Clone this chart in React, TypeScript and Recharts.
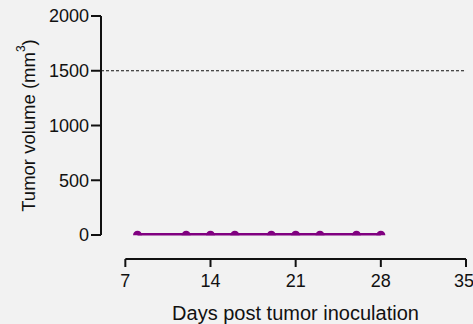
import { LineChart, Line, XAxis, YAxis, ReferenceLine, Label } from 'recharts';

// tumor growth, one group, all near zero
const days = [8, 12, 14, 16, 19, 21, 23, 26, 28];
const volume = [8, 8, 8, 8, 8, 8, 8, 8, 8];
const xTicks = [7, 14, 21, 28, 35];
const yTicks = [0, 500, 1000, 1500, 2000];
const threshold = 1500;

const data = days.map((d, i) => ({ day: d, volume: volume[i] }));

const FONT = '"Liberation Sans", Arial, sans-serif';
const INK = '#111';
const PURPLE = '#800080';

// x axis sits below the y axis (detached, Prism style)
const X_MIN = 5;
const Y_MIN = -219;

const HalfDot = (props: any) => {
  const { cx, cy } = props;
  if (cx == null || cy == null) return null;
  const r = 4.5;
  return <path d={`M${cx - r},${cy + 1} A${r},${r} 0 0 1 ${cx + r},${cy + 1} Z`} fill={PURPLE} />;
};

const YLabel = (props: any) => {
  const { viewBox } = props;
  const cx = viewBox.x + 28;
  const cy = viewBox.y + (viewBox.height - 24) / 2;
  return (
    <text
      x={cx}
      y={cy}
      transform={`rotate(-90, ${cx}, ${cy})`}
      textAnchor="middle"
      dominantBaseline="central"
      fontFamily={FONT}
      fontSize={18.5}
      fill={INK}
      stroke="none"
    >
      <tspan>Tumor volume (mm</tspan>
      <tspan dy={-7} fontSize={12}>3</tspan>
      <tspan dy={7}>)</tspan>
    </text>
  );
};

export default function App() {
  return (
    <div style={{ position: 'absolute', left: 0, top: 0, width: 473, height: 324, background: '#f2f2f2' }}>
      <LineChart width={473} height={324} data={data} margin={{ top: 16, right: 7, bottom: 0, left: 0 }}>
        <XAxis
          dataKey="day"
          type="number"
          domain={[X_MIN, 35]}
          ticks={xTicks}
          axisLine={false}
          stroke={INK}
          strokeWidth={2}
          tickLine={{ stroke: INK, strokeWidth: 2 }}
          tickSize={8}
          tickMargin={7}
          height={65}
          tick={{ fontFamily: FONT, fontSize: 18, fill: INK, stroke: 'none' }}
        >
          <Label
            value="Days post tumor inoculation"
            position="insideBottom"
            offset={4}
            dx={12}
            style={{ fontFamily: FONT, fontSize: 20, fill: INK, stroke: 'none' }}
          />
        </XAxis>
        <YAxis
          type="number"
          domain={[Y_MIN, 2000]}
          ticks={yTicks}
          axisLine={false}
          stroke={INK}
          strokeWidth={2}
          tickLine={{ stroke: INK, strokeWidth: 2 }}
          tickSize={10}
          width={101}
          tick={{ fontFamily: FONT, fontSize: 18, fill: INK, stroke: 'none' }}
          label={<YLabel />}
        />
        <ReferenceLine
          segment={[{ x: X_MIN, y: 0 }, { x: X_MIN, y: 2000 }]}
          stroke={INK}
          strokeWidth={2}
        />
        <ReferenceLine
          segment={[{ x: 7, y: Y_MIN }, { x: 35, y: Y_MIN }]}
          stroke={INK}
          strokeWidth={2}
        />
        <ReferenceLine y={threshold} stroke={INK} strokeWidth={1} strokeDasharray="3 2" />
        <Line
          dataKey="volume"
          stroke={PURPLE}
          strokeWidth={2.5}
          dot={<HalfDot />}
          isAnimationActive={false}
        />
      </LineChart>
    </div>
  );
}
